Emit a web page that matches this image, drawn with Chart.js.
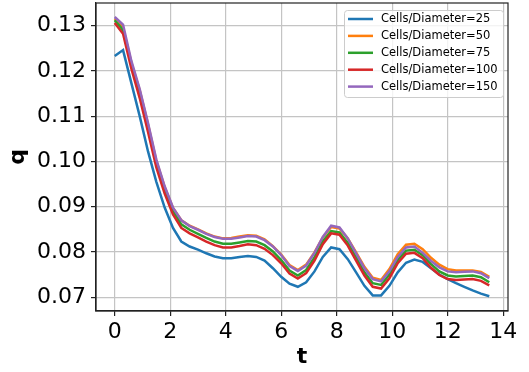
<!DOCTYPE html>
<html>
<head>
<meta charset="utf-8">
<script src="https://cdn.jsdelivr.net/npm/chart.js@4"></script>
<style>
  html, body { margin: 0; padding: 0; background: #fff; }
  #wrap { width: 529px; height: 372px; }
</style>
</head>
<body>
<div id="wrap"><canvas id="chart-q" width="529" height="372"></canvas></div>
<script>
// time samples
const times = [0, 0.3, 0.6, 0.9, 1.2, 1.5, 1.8, 2.1, 2.4, 2.7, 3.0, 3.3, 3.6, 3.9, 4.2, 4.5,
  4.8, 5.1, 5.4, 5.7, 6.0, 6.3, 6.6, 6.9, 7.2, 7.5, 7.8, 8.1, 8.4, 8.7, 9.0, 9.3, 9.6, 9.9,
  10.2, 10.5, 10.8, 11.1, 11.4, 11.7, 12.0, 12.3, 12.6, 12.9, 13.2, 13.5];

// q for each mesh resolution
const q25 = [0.1233, 0.1246, 0.1173, 0.1100, 0.1022, 0.0955, 0.0898, 0.0853, 0.0823, 0.0812,
  0.0805, 0.0797, 0.0790, 0.0786, 0.0786, 0.0789, 0.0791, 0.0789, 0.0781, 0.0764, 0.0745,
  0.0730, 0.0723, 0.0733, 0.0757, 0.0789, 0.0810, 0.0806, 0.0784, 0.0755, 0.0725, 0.0704,
  0.0704, 0.0725, 0.0755, 0.0776, 0.0783, 0.0778, 0.0764, 0.0750, 0.0740, 0.0731, 0.0723,
  0.0715, 0.0708, 0.0702];
const q50 = [0.1315, 0.1295, 0.1218, 0.1157, 0.1082, 0.1001, 0.0943, 0.0897, 0.0870, 0.0858,
  0.0850, 0.0841, 0.0834, 0.0830, 0.0831, 0.0834, 0.0837, 0.0836, 0.0828, 0.0813, 0.0794,
  0.0771, 0.0760, 0.0772, 0.0799, 0.0832, 0.0855, 0.0852, 0.0830, 0.0799, 0.0767, 0.0743,
  0.0738, 0.0762, 0.0795, 0.0816, 0.0818, 0.0806, 0.0787, 0.0772, 0.0762, 0.0759, 0.0759,
  0.0759, 0.0756, 0.0745];
const q75 = [0.1312, 0.1290, 0.1213, 0.1150, 0.1075, 0.0995, 0.0937, 0.0890, 0.0861, 0.0849,
  0.0840, 0.0831, 0.0823, 0.0818, 0.0818, 0.0821, 0.0824, 0.0823, 0.0815, 0.0801, 0.0782,
  0.0759, 0.0748, 0.0760, 0.0788, 0.0823, 0.0846, 0.0843, 0.0820, 0.0788, 0.0755, 0.0731,
  0.0727, 0.0750, 0.0782, 0.0803, 0.0805, 0.0793, 0.0773, 0.0757, 0.0748, 0.0746, 0.0747,
  0.0748, 0.0744, 0.0733];
const q100 = [0.1306, 0.1282, 0.1205, 0.1140, 0.1065, 0.0987, 0.0929, 0.0883, 0.0853, 0.0841,
  0.0832, 0.0823, 0.0815, 0.0810, 0.0810, 0.0813, 0.0817, 0.0815, 0.0807, 0.0793, 0.0775,
  0.0752, 0.0741, 0.0753, 0.0781, 0.0817, 0.0841, 0.0838, 0.0814, 0.0781, 0.0748, 0.0723,
  0.0719, 0.0742, 0.0775, 0.0796, 0.0798, 0.0786, 0.0765, 0.0749, 0.0740, 0.0738, 0.0739,
  0.0740, 0.0736, 0.0726];
const q150 = [0.1319, 0.1302, 0.1222, 0.1160, 0.1085, 0.1004, 0.0945, 0.0898, 0.0870, 0.0857,
  0.0849, 0.0840, 0.0833, 0.0829, 0.0829, 0.0832, 0.0835, 0.0834, 0.0826, 0.0812, 0.0793,
  0.0769, 0.0758, 0.0770, 0.0798, 0.0833, 0.0858, 0.0854, 0.0830, 0.0797, 0.0764, 0.0740,
  0.0735, 0.0757, 0.0789, 0.0810, 0.0812, 0.0798, 0.0780, 0.0766, 0.0757, 0.0755, 0.0756,
  0.0757, 0.0753, 0.0742];

const seriesLabels = ['Cells/Diameter=25', 'Cells/Diameter=50', 'Cells/Diameter=75',
  'Cells/Diameter=100', 'Cells/Diameter=150'];
const seriesValues = [q25, q50, q75, q100, q150];
const colors = ['#1f77b4', '#ff7f0e', '#2ca02c', '#d62728', '#9467bd'];

const xTicks = [0, 2, 4, 6, 8, 10, 12, 14];
const yTicks = [0.07, 0.08, 0.09, 0.10, 0.11, 0.12, 0.13];

Chart.defaults.font.family = "'DejaVu Sans', sans-serif";
Chart.defaults.color = '#000';

// closes the box on the top and right sides
const framePlugin = {
    id: 'frame',
    afterDraw(chart) {
        const { ctx, chartArea: a } = chart;
        ctx.save();
        ctx.strokeStyle = '#222';
        ctx.lineWidth = 1.2;
        ctx.strokeRect(a.left, a.top, a.right - a.left, a.bottom - a.top);
        ctx.restore();
    },
};

// legend box in the upper right corner of the plot
const boxLegend = {
    id: 'boxLegend',
    afterDraw(chart) {
        const ctx = chart.ctx;
        const sets = chart.data.datasets;
        const x = 344, y = 10, w = 159, h = 87;
        ctx.save();
        ctx.fillStyle = 'rgba(255,255,255,0.8)';
        ctx.strokeStyle = '#cccccc';
        ctx.lineWidth = 1;
        ctx.beginPath();
        ctx.roundRect(x + 0.5, y + 0.5, w, h, 3);
        ctx.fill();
        ctx.stroke();
        ctx.font = "11.5px 'DejaVu Sans'";
        ctx.textBaseline = 'middle';
        ctx.textAlign = 'left';
        sets.forEach((ds, i) => {
            const cy = y + 9 + i * 16.9;
            ctx.strokeStyle = ds.borderColor;
            ctx.lineWidth = 2.5;
            ctx.beginPath();
            ctx.moveTo(348, cy);
            ctx.lineTo(373, cy);
            ctx.stroke();
            ctx.fillStyle = '#000';
            ctx.fillText(ds.label, 381, cy + 0.5);
        });
        ctx.restore();
    },
};

// no extra room for half-labels at the ends of an axis
const noEndPadding = s => {
    s.paddingTop = 0;
    s.paddingBottom = 0;
    s.paddingLeft = 0;
    s.paddingRight = 0;
};

new Chart(document.getElementById('chart-q'), {
    type: 'line',
    data: {
        datasets: seriesValues.map((vals, i) => ({
            label: seriesLabels[i],
            data: times.map((t, k) => ({ x: t, y: vals[k] })),
            borderColor: colors[i],
            backgroundColor: colors[i],
            borderWidth: 2.5,
            pointRadius: 0,
            tension: 0,
            order: seriesValues.length - 1 - i,
        })),
    },
    options: {
        responsive: false,
        animation: false,
        events: [],
        layout: { padding: { top: 3, right: 21, left: 0, bottom: 0 } },
        plugins: {
            legend: { display: false },
            tooltip: { enabled: false },
        },
        scales: {
            x: {
                type: 'linear',
                min: -0.675,
                max: 14.175,
                afterBuildTicks: s => { s.ticks = xTicks.map(v => ({ value: v })); },
                afterFit: s => { s.height = 61; noEndPadding(s); },
                grid: { color: '#c4c4c4', lineWidth: 1.2, tickColor: '#222', tickLength: 5 },
                border: { color: '#222', width: 1.2 },
                ticks: { font: { size: 22 }, padding: 3, maxRotation: 0 },
                title: {
                    display: true, text: 't',
                    font: { size: 22, weight: 'bold' },
                    padding: { top: 0, bottom: 2 },
                },
            },
            y: {
                min: 0.06695,
                max: 0.1350,
                afterBuildTicks: s => { s.ticks = yTicks.map(v => ({ value: v })); },
                afterFit: s => { s.width = 96; noEndPadding(s); },
                grid: { color: '#c4c4c4', lineWidth: 1.2, tickColor: '#222', tickLength: 5 },
                border: { color: '#222', width: 1.2 },
                ticks: { font: { size: 22 }, padding: 5, callback: v => v.toFixed(2) },
                title: {
                    display: true, text: 'q',
                    font: { size: 22, weight: 'bold' },
                    padding: { top: 5, bottom: 0 },
                },
            },
        },
    },
    plugins: [framePlugin, boxLegend],
});
</script>
</body>
</html>
